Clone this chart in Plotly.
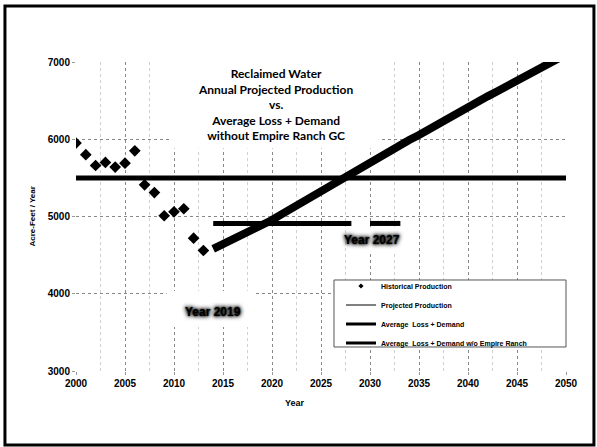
import plotly.graph_objects as go

# Historical reclaimed water production (acre-feet / year)
hist_years = [2000, 2001, 2002, 2003, 2004, 2005, 2006, 2007, 2008, 2009, 2010, 2011, 2012, 2013]
hist_values = [5950, 5800, 5660, 5700, 5640, 5690, 5850, 5410, 5310, 5010, 5060, 5100, 4720, 4560]

# Projected annual production
proj_years = list(range(2014, 2051))
proj_values = [4580, 4640, 4700, 4765, 4830, 4890, 4955, 5030, 5105, 5180,
               5255, 5330, 5405, 5480, 5560, 5640, 5720, 5790, 5860, 5925,
               5990, 6055, 6130, 6200, 6275, 6345, 6420, 6488, 6555, 6622,
               6690, 6758, 6826, 6894, 6962, 7030, 7098]

# Average loss + demand (flat)
avg_years = [2000, 2050]
avg_values = [5500, 5500]

# Average loss + demand without Empire Ranch GC (two pieces)
avg_wo_years = [2014, 2028.1, None, 2030, 2033.1]
avg_wo_values = [4910, 4910, None, 4910, 4910]

x_ticks = [2000, 2005, 2010, 2015, 2020, 2025, 2030, 2035, 2040, 2045, 2050]
y_ticks = [3000, 4000, 5000, 6000, 7000]

BOLD = "Liberation Sans"

fig = go.Figure()

fig.add_trace(go.Scatter(x=avg_years, y=avg_values, mode="lines",
                         line=dict(color="black", width=5), showlegend=False))
fig.add_trace(go.Scatter(x=avg_wo_years, y=avg_wo_values, mode="lines",
                         line=dict(color="black", width=5), showlegend=False,
                         connectgaps=False))
fig.add_trace(go.Scatter(x=proj_years, y=proj_values, mode="lines",
                         line=dict(color="black", width=8), showlegend=False))
fig.add_trace(go.Scatter(x=hist_years, y=hist_values, mode="markers",
                         marker=dict(symbol="diamond", size=9, color="black"),
                         showlegend=False))

# Legend entries
fig.add_trace(go.Scatter(x=[None], y=[None], mode="markers", name="Historical Production",
                         marker=dict(symbol="diamond", size=4, color="black")))
fig.add_trace(go.Scatter(x=[None], y=[None], mode="lines", name="Projected Production",
                         line=dict(color="black", width=1)))
fig.add_trace(go.Scatter(x=[None], y=[None], mode="lines", name="Average  Loss + Demand",
                         line=dict(color="black", width=3)))
fig.add_trace(go.Scatter(x=[None], y=[None], mode="lines",
                         name="Average  Loss + Demand w/o Empire Ranch",
                         line=dict(color="black", width=3)))

fig.update_layout(
    width=597, height=447,
    margin=dict(l=76, r=31, t=62, b=76),
    paper_bgcolor="white", plot_bgcolor="white",
    font=dict(family=BOLD, color="black"),
    xaxis=dict(range=[2000, 2050], tickvals=x_ticks, showline=False, zeroline=False,
               showgrid=True, gridcolor="#888", griddash="dot", gridwidth=1,
               minor=dict(dtick=2.5, showgrid=True, gridcolor="#d0d0d0", griddash="dot"),
               tickfont=dict(size=10, weight="bold", family=BOLD),
               ticks="outside", ticklen=3, tickcolor="#999"),
    yaxis=dict(range=[3000, 7000], tickvals=y_ticks, showline=False, zeroline=False,
               showgrid=True, gridcolor="#888", griddash="dot", gridwidth=1,
               tickfont=dict(size=10, weight="bold", family=BOLD),
               ticks="outside", ticklen=3, tickcolor="#999"),
    legend=dict(x=0.5408, y=0.322, xanchor="left", yanchor="top",
                bgcolor="rgba(0,0,0,0)", borderwidth=0,
                font=dict(size=7, weight="bold", family=BOLD),
                tracegroupgap=0),
)

glow = "0px 0px 2px black, 0px 0px 4px black, 0px 0px 5px black"
annotations = [
    dict(text="Reclaimed Water<br>Annual Projected Production<br>vs.<br>Average Loss + Demand<br>without Empire Ranch GC",
         xref="paper", yref="paper", x=0.408, y=0.862, xanchor="center", yanchor="middle",
         showarrow=False, align="center",
         font=dict(family="Lato", size=12, weight="bold", color="black")),
    dict(text="Year 2019", xref="paper", yref="paper", x=0.2796, y=0.191,
         xanchor="center", yanchor="middle", showarrow=False,
         font=dict(family=BOLD, size=12, weight="bold", color="black", shadow=glow)),
    dict(text="Year 2027", xref="paper", yref="paper", x=0.604, y=0.424,
         xanchor="center", yanchor="middle", showarrow=False,
         font=dict(family=BOLD, size=12, weight="bold", color="black", shadow=glow)),
    dict(text="Year", xref="paper", yref="paper", x=0.447, y=-0.1036,
         xanchor="center", yanchor="middle", showarrow=False,
         font=dict(family=BOLD, size=9, weight="bold")),
    dict(text="Acre-Feet / Year", xref="paper", yref="paper", x=-0.0878, y=0.5,
         xanchor="center", yanchor="middle", showarrow=False, textangle=-90,
         font=dict(family=BOLD, size=8, weight="bold")),
]
fig.update_layout(annotations=annotations)

# White panels that hide the grid behind the text blocks
for x0, x1, y0, y1 in [(0.196, 0.618, 0.72, 1.005),
                       (0.185, 0.367, 0.142, 0.259),
                       (0.560, 0.671, 0.379, 0.465)]:
    fig.add_shape(type="rect", xref="paper", yref="paper", x0=x0, x1=x1, y0=y0, y1=y1,
                  fillcolor="white", line=dict(width=0), layer="above")

# Legend frame
fig.add_shape(type="rect", xref="paper", yref="paper",
              x0=0.5265, x1=1.0, y0=0.0777, y1=0.2945,
              fillcolor="white", line=dict(color="#555", width=1), layer="above")

# Outer frame around the whole figure
fig.add_shape(type="rect", xref="paper", yref="paper",
              x0=-0.145, x1=1.057, y0=-0.2395, y1=1.1815,
              line=dict(color="black", width=3), layer="above")

fig.write_html("out.html")
